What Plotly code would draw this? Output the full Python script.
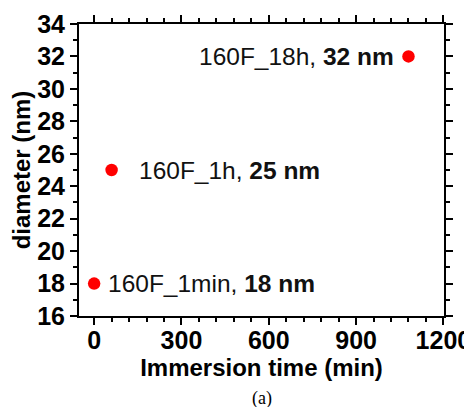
import plotly.graph_objects as go

times = [0, 60, 1080]
diameters = [18, 25, 32]
sample_labels = ["160F_1min", "160F_1h", "160F_18h"]
size_labels = ["18 nm", "25 nm", "32 nm"]
x_ticks = [0, 300, 600, 900, 1200]
y_ticks = [16, 18, 20, 22, 24, 26, 28, 30, 32, 34]

FONT = "Arial, Liberation Sans, sans-serif"

fig = go.Figure()
fig.add_trace(go.Scatter(
    x=times, y=diameters, mode="markers",
    marker=dict(color="#ff0000", size=12.5),
    showlegend=False,
))

shifts = [(12, "left"), (25, "left"), (-12, "right")]
for t, d, s, z, (xs, anc) in zip(times, diameters, sample_labels, size_labels, shifts):
    fig.add_annotation(
        x=t, y=d, xref="x", yref="y",
        text=f"{s}, <b>{z}</b>",
        showarrow=False, xanchor=anc, yanchor="middle", xshift=xs,
        font=dict(family=FONT, size=24.5, color="#111111"),
    )

fig.add_annotation(
    x=0.5, y=-0.281, xref="paper", yref="paper",
    text="(a)", showarrow=False, xanchor="center", yanchor="middle",
    font=dict(family="Liberation Serif, Times New Roman, serif", size=18, color="black"),
)

axis_common = dict(
    showline=True, linecolor="black", linewidth=2, mirror="allticks",
    ticks="outside", ticklen=7, tickwidth=2, tickcolor="black",
    showgrid=False, zeroline=False, automargin=False,
    tickfont=dict(family=FONT, size=25, color="black", weight="bold"),
)

fig.update_xaxes(
    range=[-52, 1202], tickvals=x_ticks, ticktext=[str(v) for v in x_ticks],
    ticklabelstandoff=-6,
    title=dict(text="<b>Immersion time (min)</b>", standoff=2,
               font=dict(family=FONT, size=24, color="black")),
    minor=dict(ticks="outside", ticklen=4, tickwidth=2, tickcolor="black", dtick=60, tick0=0),
    **axis_common,
)
fig.update_yaxes(
    range=[16, 34], tickvals=y_ticks, ticktext=[str(v) for v in y_ticks],
    title=dict(text="<b>diameter (nm)</b>", standoff=8,
               font=dict(family=FONT, size=24, color="black")),
    minor=dict(ticks="outside", ticklen=4, tickwidth=2, tickcolor="black", dtick=1, tick0=0),
    **axis_common,
)

# page has an 8px body margin, so the figure is sized to fit the window from (8, 8)
fig.update_layout(
    width=464, height=399,
    margin=dict(l=71, r=28, t=16, b=91, pad=0),
    plot_bgcolor="white", paper_bgcolor="white",
)

fig.write_html("out.html")
